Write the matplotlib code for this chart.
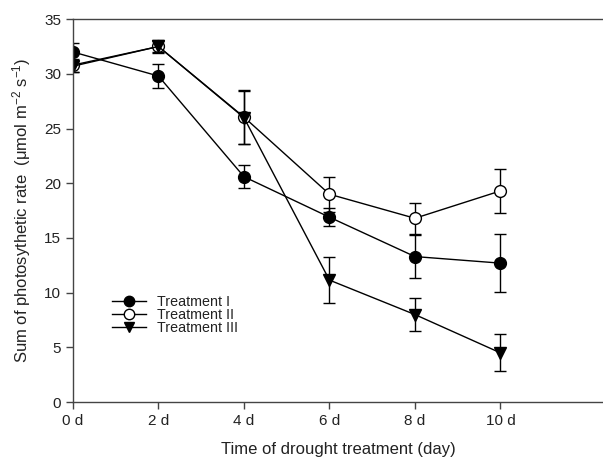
import matplotlib
matplotlib.use('Agg')
import matplotlib.pyplot as plt
from matplotlib.lines import Line2D
import numpy as np

plt.rcParams['font.family'] = ['Liberation Sans', 'DejaVu Sans']
plt.rcParams['mathtext.fontset'] = 'custom'
plt.rcParams['mathtext.rm'] = 'Liberation Sans'
plt.rcParams['mathtext.it'] = 'Liberation Sans:italic'

days = [0, 2, 4, 6, 8, 10]
day_labels = ['0 d', '2 d', '4 d', '6 d', '8 d', '10 d']

t1 = [32.0, 29.8, 20.6, 16.9, 13.3, 12.7]
t1_err = [0.8, 1.1, 1.05, 0.8, 2.0, 2.65]
t2 = [30.8, 32.5, 26.05, 19.0, 16.8, 19.3]
t2_err = [0.6, 0.6, 2.45, 1.6, 1.4, 2.0]
t3 = [30.7, 32.5, 26.0, 11.15, 8.0, 4.5]
t3_err = [0.5, 0.5, 2.45, 2.1, 1.5, 1.7]

fig = plt.figure(figsize=(6.03, 4.67), dpi=100)
ax = fig.add_axes([0.121, 0.139, 0.879, 0.82])

common = dict(color='black', ecolor='black', elinewidth=1.0, capsize=4,
              capthick=1.0, linewidth=1.0)
ax.errorbar(days, t2, yerr=t2_err, marker='o', markersize=8.5,
            markerfacecolor='white', markeredgecolor='black', **common)
ax.errorbar(days, t3, yerr=t3_err, marker='v', markersize=8.5,
            markerfacecolor='black', markeredgecolor='black', **common)
ax.errorbar(days, t1, yerr=t1_err, marker='o', markersize=8.5,
            markerfacecolor='black', markeredgecolor='black', **common)

ax.set_xlim(0, 12.4)
ax.set_ylim(0, 35)
ax.set_xticks(days)
ax.set_xticklabels(day_labels)
ax.set_yticks(np.arange(0, 36, 5))

for s in ['left', 'bottom', 'top']:
    ax.spines[s].set_color('#444444')
    ax.spines[s].set_linewidth(1.0)
ax.spines['right'].set_visible(False)
ax.tick_params(direction='out', length=5, width=1.0, color='#444444',
               labelcolor='#222222', labelsize=11, top=False, right=False)

ax.set_xlabel('Time of drought treatment (day)', fontsize=12, labelpad=10,
              color='#222222')
ax.set_ylabel('Sum of photosythetic rate  (μmol m$^{-2}$ s$^{-1}$)',
              fontsize=12, labelpad=8, color='#222222')

handles = [
    Line2D([], [], color='black', lw=1.0, marker='o', markersize=7.5,
           markerfacecolor='black', markeredgecolor='black'),
    Line2D([], [], color='black', lw=1.0, marker='o', markersize=7.5,
           markerfacecolor='white', markeredgecolor='black'),
    Line2D([], [], color='black', lw=1.0, marker='v', markersize=7.5,
           markerfacecolor='black', markeredgecolor='black'),
]
ax.legend(handles, ['Treatment I', 'Treatment II', 'Treatment III'],
          loc='upper left', bbox_to_anchor=(0.0736, 0.28), frameon=False,
          fontsize=10.3, handlelength=2.4, handletextpad=0.75,
          labelspacing=-0.05, borderpad=0, borderaxespad=0,
          labelcolor='#222222')

fig.savefig('out.png', dpi=100)
